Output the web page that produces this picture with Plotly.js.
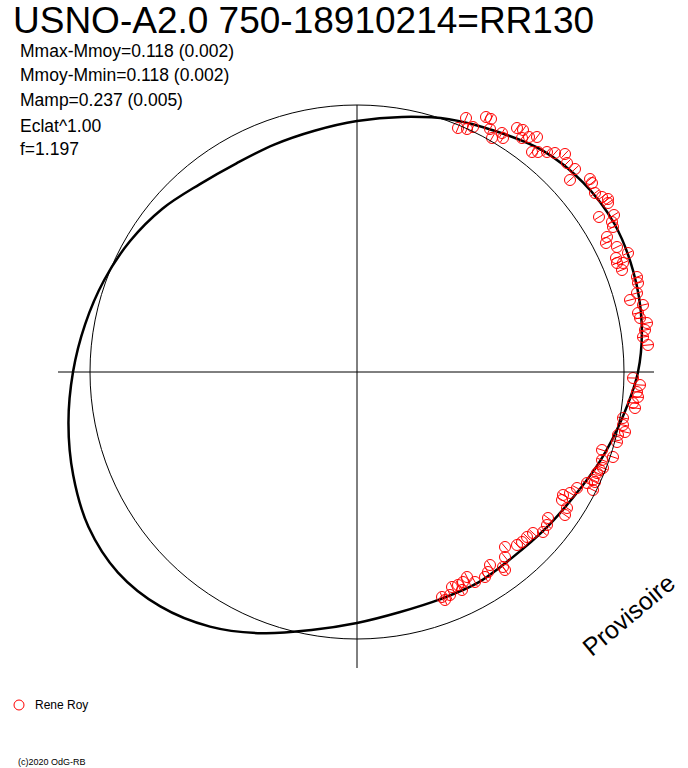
<!DOCTYPE html>
<html>
<head>
<meta charset="utf-8">
<script src="https://cdn.plot.ly/plotly-3.0.1.min.js"></script>
<style>html,body{margin:0;padding:0;background:#fff;}#chart{width:688px;height:768px;}</style>
</head>
<body>
<div id="chart"></div>
<script>
// Chart units: offset from the centre of the diagram (reference circle radius = 267)
const circleRadius = 267;

// Fitted light curve in polar form: angle (deg) and radius
const curveAngle  = [0,10,20,30,40,50,60,70,80,90,100,110,120,130,140,150,160,170,180,190,200,210,220,230,240,250,260,270,280,290,300,310,320,330,340,350];
const curveRadius = [281,289,294,297,295,289,278,269,259,251,245,242,241,245,254,262,269,276,284,293,302,310,312,306,294,278,262,251,244,242,243,242,245,250,259,269];

// Observations "Rene Roy"
const obsX = [109,101,110,116,129,134,133,135,145,146,160,166,172,180,175,181,190,198,165,
  208,210,218,213,233,235,238,245,251,251,242,257,255,256,250,249,260,271,259,
  260,266,265,280,281,280,273,286,281,283,290,288,286,291,276,
  283,280,281,276,278,266,266,268,261,260,245,256,245,243,240,236,230,236,
  246,238,220,213,206,205,210,208,191,190,186,176,170,165,160,148,
  148,146,148,133,131,128,118,110,106,101,95,105,93,85,88];
const obsY = [254,244,243,245,255,253,243,234,239,234,244,242,235,235,220,220,220,219,234,
  218,209,203,192,193,189,179,175,173,169,155,157,150,145,135,129,125,119,114,
  109,109,102,95,89,79,72,67,59,54,49,42,35,27,-6,
  -13,-20,-25,-31,-36,-46,-53,-60,-63,-70,-78,-85,-88,-98,-101,-108,-111,-118,
  -96,-110,-116,-121,-123,-128,-136,-143,-146,-153,-160,-161,-165,-170,-173,-175,
  -185,-195,-198,-193,-200,-205,-210,-205,-210,-213,-215,-218,-223,-225,-228];

const titleText = "USNO-A2.0 750-18910214=RR130";
const statLines = ["Mmax-Mmoy=0.118 (0.002)","Mmoy-Mmin=0.118 (0.002)","Mamp=0.237 (0.005)","Eclat^1.00","f=1.197"];
const legendName = "Rene Roy";
const stampText = "Provisoire";
const copyText = "(c)2020 OdG-RB";

// polar -> cartesian for the curve (closed loop)
const curveX = [], curveY = [];
for (let i = 0; i <= curveAngle.length; i++) {
  const k = i % curveAngle.length;
  const a = curveAngle[k] * Math.PI / 180;
  curveX.push(curveRadius[k] * Math.cos(a));
  curveY.push(curveRadius[k] * Math.sin(a));
}

// radial tick inside each marker
const tickX = [], tickY = [];
for (let i = 0; i < obsX.length; i++) {
  const r = Math.hypot(obsX[i], obsY[i]);
  const ux = obsX[i] / r, uy = obsY[i] / r;
  tickX.push(obsX[i] - 5*ux, obsX[i] + 5*ux, null);
  tickY.push(obsY[i] - 5*uy, obsY[i] + 5*uy, null);
}

const FONT = "Liberation Sans, Arial, sans-serif";

const traces = [
  {x: curveX, y: curveY, mode: "lines", line: {color: "#000", width: 2.5, shape: "spline", smoothing: 1}, hoverinfo: "skip"},
  {x: tickX, y: tickY, mode: "lines", line: {color: "#ff0000", width: 1}, hoverinfo: "skip"},
  {x: obsX, y: obsY, mode: "markers", name: legendName,
   marker: {symbol: "circle-open", size: 11, color: "#ff0000", line: {width: 1, color: "#ff0000"}}}
];

const annotations = [
  {x: -346, y: 352, xref: "x", yref: "y", text: titleText, showarrow: false, xanchor: "left", yanchor: "middle",
   font: {family: FONT, size: 37, color: "#000"}}
];
const statY = [321, 297, 272, 246, 223];
statLines.forEach((t, i) => annotations.push({x: -339, y: statY[i], xref: "x", yref: "y", text: t, showarrow: false,
  xanchor: "left", yanchor: "middle", font: {family: FONT, size: 17.5, color: "#000"}}));
annotations.push({x: -324, y: -333, xref: "x", yref: "y", text: legendName, showarrow: false, xanchor: "left", yanchor: "middle",
  font: {family: FONT, size: 12, color: "#000"}});
annotations.push({x: -341, y: -390, xref: "x", yref: "y", text: copyText, showarrow: false, xanchor: "left", yanchor: "middle",
  font: {family: FONT, size: 9, color: "#000"}});
annotations.push({x: 271, y: -243, xref: "x", yref: "y", text: stampText, showarrow: false, xanchor: "center", yanchor: "middle",
  textangle: -40, font: {family: FONT, size: 25, color: "#000"}});

const shapes = [
  {type: "circle", xref: "x", yref: "y", x0: -circleRadius, x1: circleRadius, y0: -circleRadius, y1: circleRadius,
   line: {color: "#000", width: 1}},
  {type: "line", xref: "x", yref: "y", x0: -299, x1: 297, y0: 0, y1: 0, line: {color: "#000", width: 1}},
  {type: "line", xref: "x", yref: "y", x0: 0, x1: 0, y0: 267, y1: -296, line: {color: "#000", width: 1}},
  {type: "circle", xref: "x", yref: "y", x0: -343, x1: -333, y0: -338, y1: -328, line: {color: "#ff0000", width: 1}}
];

const layout = {
  width: 688, height: 768,
  margin: {l: 0, r: 0, t: 0, b: 0},
  paper_bgcolor: "#fff", plot_bgcolor: "#fff",
  showlegend: false,
  xaxis: {range: [-357, 331], visible: false, showgrid: false, zeroline: false, fixedrange: true},
  yaxis: {range: [-396, 372], visible: false, showgrid: false, zeroline: false, fixedrange: true},
  shapes: shapes,
  annotations: annotations
};

Plotly.newPlot("chart", traces, layout, {staticPlot: true, displayModeBar: false});
</script>
</body>
</html>
